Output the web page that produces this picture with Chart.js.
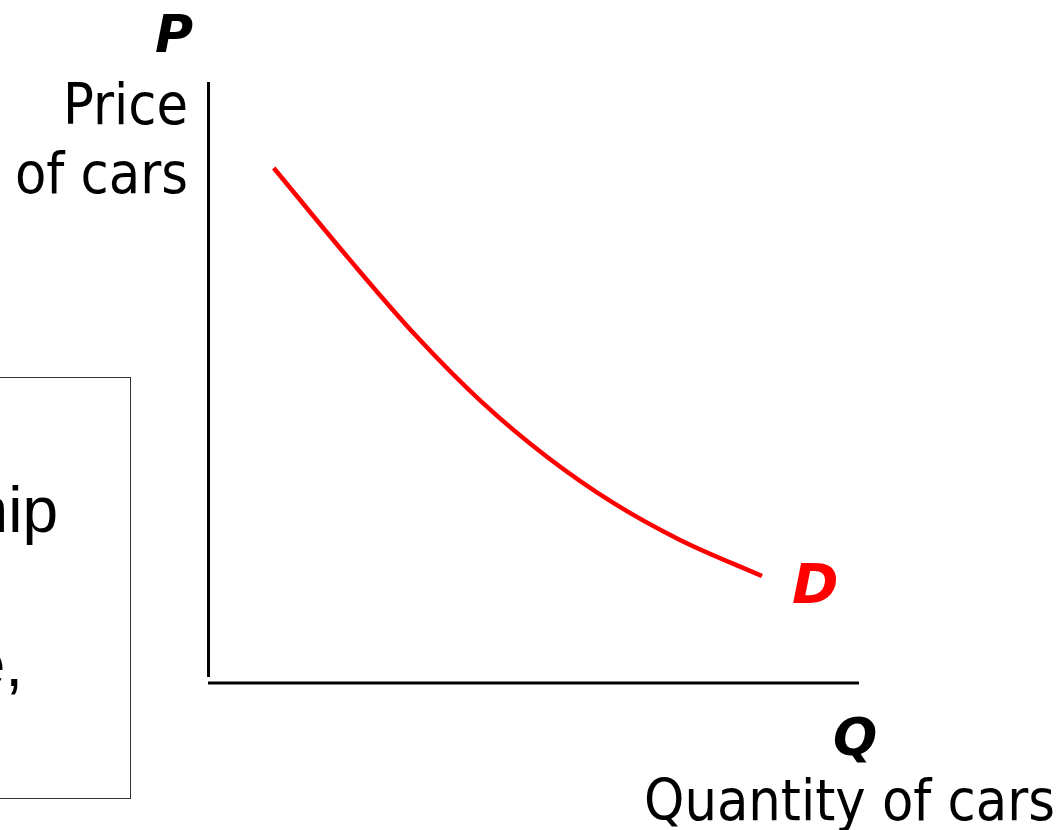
<!DOCTYPE html>
<html>
<head>
<meta charset="utf-8">
<script src="https://cdn.jsdelivr.net/npm/chart.js@4.4.0/dist/chart.umd.min.js"></script>
<style>
  html, body { margin: 0; padding: 0; background: #fff; overflow: hidden; }
  .stage { position: relative; width: 1064px; height: 830px; overflow: hidden; }
  #demand-chart { position: absolute; left: 0; top: 0; }
  .lbl {
    position: absolute;
    font-family: "DejaVu Sans Condensed", "DejaVu Sans", sans-serif;
    font-stretch: condensed;
    font-size: 57px;
    line-height: 69px;
    color: #000;
    white-space: nowrap;
  }
  .axis-letter {
    position: absolute;
    font-family: "DejaVu Sans", sans-serif;
    font-weight: bold;
    font-style: italic;
    font-size: 52px;
    line-height: 52px;
    color: #000;
  }
  .note-box {
    position: absolute;
    left: -10px;
    top: 377px;
    width: 139px;
    height: 420px;
    border: 1.5px solid #333;
  }
  .note {
    position: absolute;
    font-family: "Liberation Sans", Arial, sans-serif;
    font-size: 64px;
    line-height: 64px;
    width: 400px;
    text-align: right;
    white-space: nowrap;
  }
</style>
</head>
<body>
<div class="stage">
  <canvas id="demand-chart" width="1064" height="830"></canvas>

  <div class="note-box"></div>
  <div class="note" style="left:-342px; top:478px;">relationship</div>
  <div class="note" style="left:-377px; top:632px;">price,</div>

  <div class="axis-letter" style="left:155px; top:8px;">P</div>
  <div class="lbl" style="right:876px; top:70px; text-align:right;">Price<br>of cars</div>

  <div class="axis-letter" style="left:833px; top:711px;">Q</div>
  <div class="lbl" style="right:9px; top:766px;">Quantity of cars</div>
</div>

<script>
// demand curve (quantity 0-100 across, price 0-100 up)
const quantity = [10.1, 21.8, 32.1, 42.2, 52.1, 62.2, 72.5, 85.1];
const price = [85.7, 70.4, 57.6, 46.6, 37.6, 30.0, 23.8, 17.8];
const curveLabel = "D";

const red = "rgb(255,0,0)";

// plain axis lines, the vertical one stops a little short of the corner
const axesLines = {
  id: "axesLines",
  beforeDatasetsDraw(chart) {
    const { ctx, chartArea } = chart;
    const { left, right, top, bottom } = chartArea;
    ctx.save();
    ctx.strokeStyle = "#000";
    ctx.lineWidth = 3;
    ctx.beginPath();
    ctx.moveTo(left + 0.5, top);
    ctx.lineTo(left + 0.5, bottom - 6);
    ctx.moveTo(left, bottom);
    ctx.lineTo(right, bottom);
    ctx.stroke();
    ctx.restore();
  },
};

// "D" next to the end of the curve
const curveName = {
  id: "curveName",
  afterDatasetsDraw(chart) {
    const pts = chart.getDatasetMeta(0).data;
    const last = pts[pts.length - 1];
    const { ctx } = chart;
    ctx.save();
    ctx.fillStyle = red;
    ctx.font = "italic bold 56px 'DejaVu Sans'";
    ctx.textBaseline = "alphabetic";
    ctx.fillText(curveLabel, last.x + 30, last.y + 27);
    ctx.restore();
  },
};

new Chart(document.querySelector("#demand-chart"), {
  type: "line",
  data: {
    datasets: [
      {
        data: quantity.map((q, i) => ({ x: q, y: price[i] })),
        borderColor: red,
        borderWidth: 4.5,
        cubicInterpolationMode: "monotone",
        pointRadius: 0,
        fill: false,
      },
    ],
  },
  options: {
    responsive: false,
    animation: false,
    events: [],
    layout: {
      padding: { left: 208, top: 82, right: 205, bottom: 147 },
    },
    plugins: {
      legend: { display: false },
      tooltip: { enabled: false },
    },
    scales: {
      x: { type: "linear", min: 0, max: 100, display: false },
      y: { type: "linear", min: 0, max: 100, display: false },
    },
  },
  plugins: [axesLines, curveName],
});
</script>
</body>
</html>
